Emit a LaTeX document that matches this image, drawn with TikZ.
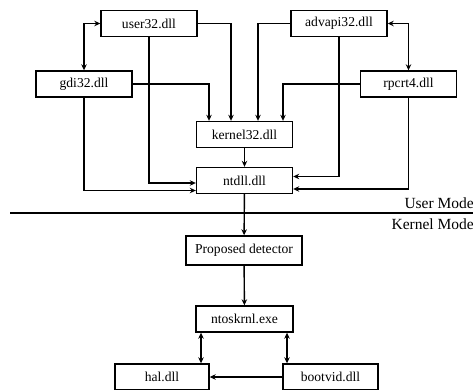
\documentclass[tikz,border=0pt]{standalone}
\usepackage{fontspec}
\setmainfont{Liberation Serif}
\usetikzlibrary{positioning,arrows.meta}

\begin{document}
\begin{tikzpicture}[x=1pt, y=-1pt, >={Stealth[length=6pt,width=5.5pt]},
  dll/.style={draw, line width=1.4pt, minimum width=96pt, minimum height=26pt,
    inner sep=0pt, font=\fontsize{13.6}{15}\selectfont},
  link/.style={line width=1.4pt},
  modelabel/.style={anchor=east, inner sep=0pt, font=\fontsize{15.5}{18}\selectfont}]
  \useasboundingbox (0,0) rectangle (473,390);
  % user mode libraries
  \node[dll] (user32)   at (149,23.5)    {user32.dll};
  \node[dll] (advapi32) at (339,23.5)    {advapi32.dll};
  \node[dll] (gdi32)    at (84,84)       {gdi32.dll};
  \node[dll] (rpcrt4)   at (408.5,84)    {rpcrt4.dll};
  \node[dll] (kernel32) at (244.5,134.5) {kernel32.dll};
  \node[dll] (ntdll)    at (244.5,180.5) {ntdll.dll};
  \draw[link, <->] (user32.west) -| (gdi32.north);
  \draw[link, <->] (advapi32.east) -| (rpcrt4.north);
  \draw[link, ->] (gdi32.east) -| ([xshift=-35.5pt]kernel32.north);
  \draw[link, ->] (user32.east) -| ([xshift=-13.5pt]kernel32.north);
  \draw[link, ->] (advapi32.west) -| ([xshift=13.5pt]kernel32.north);
  \draw[link, ->] (rpcrt4.west) -| ([xshift=38.5pt]kernel32.north);
  \draw[link, ->] (user32.south) |- ([yshift=-2.5pt]ntdll.west);
  \draw[link, ->] (gdi32.south) |- ([yshift=-10pt]ntdll.west);
  \draw[link, ->] (advapi32.south) |- ([yshift=4pt]ntdll.east);
  \draw[link, ->] (rpcrt4.south) |- ([yshift=-8.5pt]ntdll.east);
  \draw[link, ->] (kernel32) -- (ntdll);
  % mode boundary
  \coordinate (lineL) at (10,213);
  \coordinate (lineR) at (473,213);
  \draw[link] (lineL) -- (lineR);
  \node[modelabel] (usermode)   at (474,203) {User Mode};
  \node[modelabel] (kernelmode) at (474,224) {Kernel Mode};
  % kernel mode
  \node[dll, minimum width=116pt, minimum height=29pt] (detector) at (244,250.5) {Proposed detector};
  \node[dll, minimum width=97pt] (ntoskrnl) at (244.5,319) {ntoskrnl.exe};
  \node[dll, minimum width=94pt] (hal)      at (162,377)   {hal.dll};
  \node[dll, minimum width=95pt] (bootvid)  at (330.5,377) {bootvid.dll};
  \draw[link, ->] (ntdll) -- (detector);
  \draw[link, ->] (detector) -- (ntoskrnl);
  \draw[link, <->] ([xshift=-43.5pt]ntoskrnl.south) -- ([xshift=-43.5pt]ntoskrnl.south |- hal.north);
  \draw[link, <->] ([xshift=42.5pt]ntoskrnl.south) -- ([xshift=42.5pt]ntoskrnl.south |- bootvid.north);
  \draw[link, ->] (bootvid.west) -- (hal.east);
\end{tikzpicture}
\end{document}
